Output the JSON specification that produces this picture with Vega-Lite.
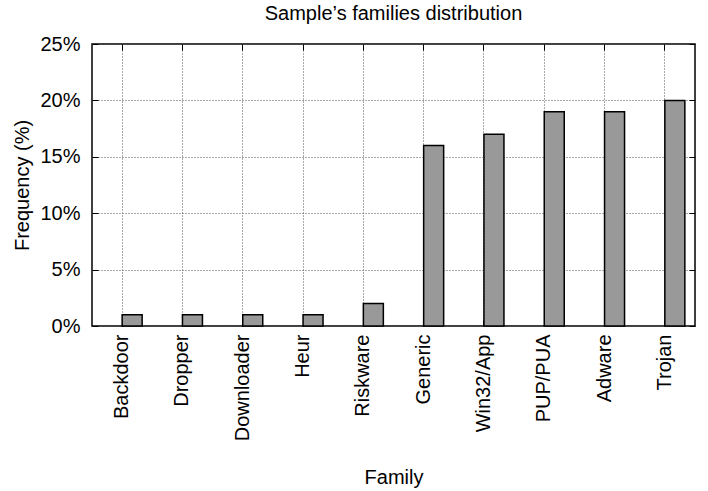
{
  "$schema": "https://vega.github.io/schema/vega-lite/v6.json",
  "width": 603,
  "height": 282,
  "autosize": {"type": "none"},
  "padding": {"left": 92, "top": 44, "right": 13, "bottom": 165},
  "background": "white",
  "title": {
    "text": "Sample’s families distribution",
    "font": "Liberation Sans",
    "fontSize": 20,
    "fontWeight": "normal",
    "color": "#000",
    "anchor": "middle",
    "offset": 10
  },
  "config": {
    "view": {"stroke": "#000", "strokeWidth": 1.5},
    "axis": {
      "labelFont": "Liberation Sans",
      "titleFont": "Liberation Sans",
      "labelFontSize": 20,
      "titleFontSize": 20,
      "titleFontWeight": "normal",
      "labelColor": "#000",
      "titleColor": "#000",
      "tickColor": "#000",
      "domain": false
    }
  },
  "data": {
    "values": [
      {"Family": "Backdoor", "Frequency": 1},
      {"Family": "Dropper", "Frequency": 1},
      {"Family": "Downloader", "Frequency": 1},
      {"Family": "Heur", "Frequency": 1},
      {"Family": "Riskware", "Frequency": 2},
      {"Family": "Generic", "Frequency": 16},
      {"Family": "Win32/App", "Frequency": 17},
      {"Family": "PUP/PUA", "Frequency": 19},
      {"Family": "Adware", "Frequency": 19},
      {"Family": "Trojan", "Frequency": 20}
    ]
  },
  "resolve": {"axis": {"x": "independent", "y": "independent"}},
  "layer": [
    {
      "mark": {"type": "bar", "width": 20, "xOffset": 10, "fill": "#999", "stroke": "#000", "strokeWidth": 1.5},
      "encoding": {
        "x": {
          "field": "Family", "type": "nominal", "sort": null,
          "scale": {"paddingInner": 0, "paddingOuter": 0},
          "axis": {
            "title": "Family",
            "labelAngle": -90,
            "labelAlign": "right",
            "labelBaseline": "middle",
            "labelPadding": 14,
            "tickSize": -6,
            "grid": true,
            "gridDash": [1, 2],
            "gridColor": "#555",
            "titlePadding": 27
          }
        },
        "y": {
          "field": "Frequency", "type": "quantitative",
          "scale": {"domain": [0, 25], "nice": false},
          "axis": {
            "title": "Frequency (%)",
            "values": [0, 5, 10, 15, 20, 25],
            "labelExpr": "datum.value + '%'",
            "labelPadding": 18,
            "tickSize": -6,
            "grid": true,
            "gridDash": [1, 2],
            "gridColor": "#555",
            "titlePadding": 7
          }
        }
      }
    },
    {
      "mark": {"type": "bar", "opacity": 0},
      "encoding": {
        "x": {
          "field": "Family", "type": "nominal", "sort": null,
          "axis": {"orient": "top", "labels": false, "title": null, "grid": false, "tickSize": -6}
        },
        "y": {
          "field": "Frequency", "type": "quantitative",
          "axis": {"orient": "right", "labels": false, "title": null, "grid": false, "tickSize": -6, "values": [0, 5, 10, 15, 20, 25]}
        }
      }
    }
  ]
}
